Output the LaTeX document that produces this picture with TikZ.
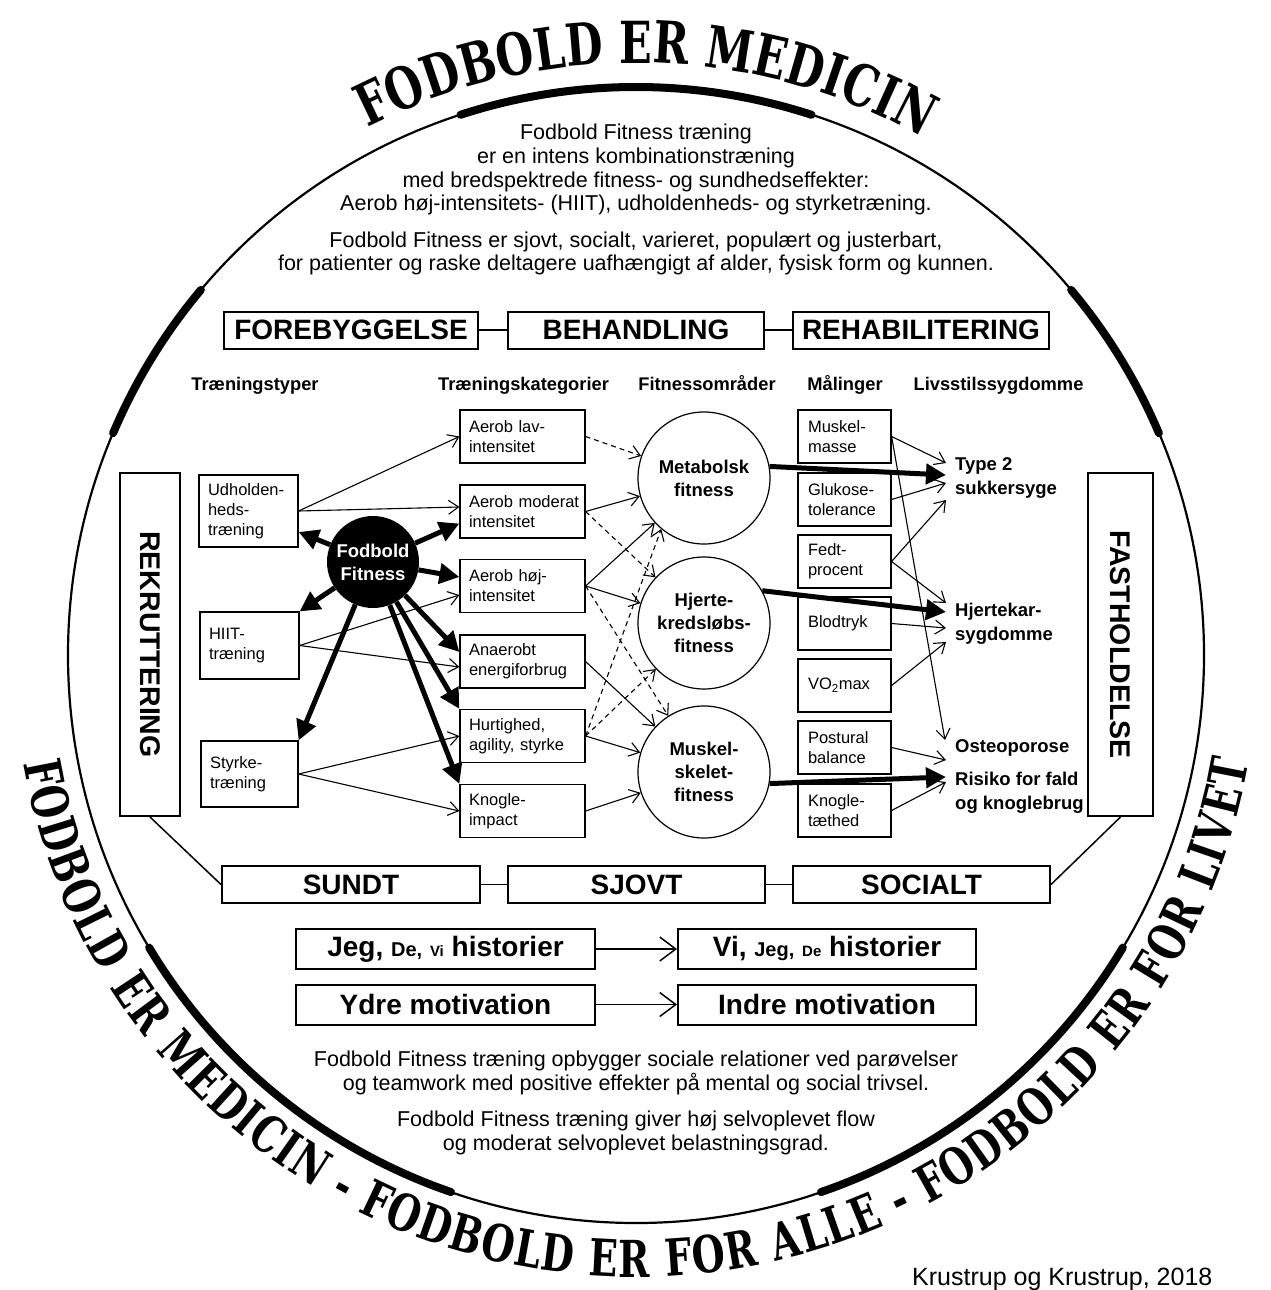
\documentclass[tikz,border=0pt]{standalone}
\usepackage{fontspec}
\setmainfont{Liberation Sans}
\newfontfamily\arcfont[FakeStretch=0.74]{DejaVu Serif}
\usetikzlibrary{arrows.meta,decorations.text,calc}
\newcommand\fsz[2]{\fontsize{#1}{#2}\selectfont}
\begin{document}
\begin{tikzpicture}[x=1pt,y=1pt,
  every node/.style={inner sep=0pt},
  sbox/.style={draw, line width=1.2pt, inner xsep=9pt, inner ysep=0pt, align=left, font=\fsz{16.5}{20}},
  hbox/.style={draw, line width=2pt, inner sep=0pt, minimum height=37pt, font=\bfseries\fsz{28}{28}},
  sidebox/.style={draw, line width=2pt, inner sep=0pt},
  fcirc/.style={draw, line width=1.2pt, circle, minimum size=132pt, inner sep=0pt, align=center, font=\bfseries\fsz{18.5}{23}},
  dis/.style={anchor=west, align=left, font=\bfseries\fsz{18.5}{24}},
  hdr/.style={anchor=base, font=\bfseries\fsz{18.3}{20}},
  para/.style={anchor=base, font=\fsz{21.5}{24}},
  thin/.style={line width=1.1pt, -{Straight Barb[length=10pt,width=14pt]}},
  dsh/.style={thin, dash pattern=on 5pt off 4pt},
  fat/.style={line width=5pt, -{Triangle[length=20pt,width=20pt]}},
  link/.style={line width=1.5pt},
  mbox/.style={draw, line width=2pt, inner sep=0pt, minimum width=299pt, minimum height=40pt, font=\bfseries\fsz{28}{28}}
]
\useasboundingbox (0,0) rectangle (1270,-1290);

% outer circle
\coordinate (C) at (636,-655);
\draw[line width=2.2pt] (C) circle[radius=568pt];
\foreach \a/\b in {72/108, 23/40, 140/157, 211/251, 289/329}
  \draw[line width=8pt, line cap=round] ($(C)+(\a:568pt)$) arc[start angle=\a, end angle=\b, radius=568pt];

% curved titles
\path[decorate, decoration={text along path, text align={fit to path},
   text={|\arcfont\bfseries\fsz{58}{58}|FODBOLD ER MEDICIN}}]
   ($(C)+(117:592pt)$) arc[start angle=117, end angle=61, radius=592pt];
\path[decorate, decoration={text along path, text align={fit to path},
   text={|\arcfont\bfseries\fsz{51}{51}|FODBOLD ER MEDICIN - FODBOLD ER FOR ALLE - FODBOLD ER FOR LIVET}}]
   ($(C)+(190:622pt)$) arc[start angle=190, end angle=350, radius=622pt];

% top paragraphs
\node[para] (p1) at (636,-139) {Fodbold Fitness træning};
\node[para] (p2) at (636,-163) {er en intens kombinationstræning};
\node[para] (p3) at (636,-187) {med bredspektrede fitness- og sundhedseffekter:};
\node[para] (p4) at (636,-210) {Aerob høj-intensitets- (HIIT), udholdenheds- og styrketræning.};
\node[para] (p5) at (636,-247) {Fodbold Fitness er sjovt, socialt, varieret, populært og justerbart,};
\node[para] (p6) at (636,-270) {for patienter og raske deltagere uafhængigt af alder, fysisk form og kunnen.};

% header boxes
\node[hbox, minimum width=254pt] (fore) at (351,-330) {FOREBYGGELSE};
\node[hbox, minimum width=256pt] (beh) at (636,-330) {BEHANDLING};
\node[hbox, minimum width=256pt] (reh) at (921,-330) {REHABILITERING};
\draw[link] (fore) -- (beh);
\draw[link] (beh) -- (reh);

% column headers
\node[hdr] (h1) at (255,-390) {Træningstyper};
\node[hdr] (h2) at (523.5,-390) {Træningskategorier};
\node[hdr] (h3) at (707,-390) {Fitnessområder};
\node[hdr] (h4) at (845,-390) {Målinger};
\node[hdr] (h5) at (998.5,-390) {Livsstilssygdomme};

% side boxes
\node[sidebox, minimum width=60pt, minimum height=343pt] (rek) at (150,-644.5) {};
\node[rotate=-90, font=\bfseries\fsz{28.5}{28.5}] (rekt) at (rek.center) {REKRUTTERING};
\node[sidebox, minimum width=65pt, minimum height=343pt] (fast) at (1120.5,-644.5) {};
\node[rotate=-90, font=\bfseries\fsz{28.5}{28.5}] (fastt) at (fast.center) {FASTHOLDELSE};

% training types
\node[sbox, text width=81pt, minimum height=72pt] (udh) at (248.5,-511) {Udholden-\\heds-\\træning};
\node[sbox, text width=81pt, minimum height=67pt] (hiit) at (249.5,-645.5) {HIIT-\\træning};
\node[sbox, text width=79pt, minimum height=66pt] (sty) at (249.5,-774) {Styrke-\\træning};

% training categories
\node[sbox, text width=107pt, minimum height=53pt] (alav) at (522.5,-436.5) {Aerob lav-\\intensitet};
\node[sbox, text width=107pt, minimum height=53pt] (amod) at (522.5,-511.5) {\mbox{Aerob moderat}\\intensitet};
\node[sbox, text width=107pt, minimum height=53pt] (ahoj) at (522.5,-586) {Aerob høj-\\intensitet};
\node[sbox, text width=107pt, minimum height=53pt] (anae) at (522.5,-661.5) {Anaerobt\\\mbox{energiforbrug}};
\node[sbox, text width=107pt, minimum height=53pt] (hurt) at (522.5,-736) {Hurtighed,\\\mbox{agility, styrke}};
\node[sbox, text width=107pt, minimum height=53pt] (knog) at (522.5,-811) {Knogle-\\impact};

% fitness circles
\node[fcirc] (met) at (704,-478) {Metabolsk\\fitness};
\node[fcirc] (hje) at (704,-623) {Hjerte-\\kredsløbs-\\fitness};
\node[fcirc] (mus) at (704,-772) {Muskel-\\skelet-\\fitness};

% measurements
\node[sbox, inner xsep=10pt, text width=73pt, minimum height=53pt] (mm) at (844.5,-436.5) {Muskel-\\masse};
\node[sbox, inner xsep=10pt, text width=73pt, minimum height=53pt] (glu) at (844.5,-499.5) {Glukose-\\tolerance};
\node[sbox, inner xsep=10pt, text width=73pt, minimum height=53pt] (fedt) at (844.5,-561.5) {Fedt-\\procent};
\node[sbox, inner xsep=10pt, text width=73pt, minimum height=53pt] (blod) at (844.5,-623.5) {Blodtryk};
\node[sbox, inner xsep=10pt, text width=73pt, minimum height=53pt] (vo2) at (844.5,-685.5) {VO\textsubscript{2}max};
\node[sbox, inner xsep=10pt, text width=73pt, minimum height=53pt] (post) at (844.5,-747.5) {Postural\\balance};
\node[sbox, inner xsep=10pt, text width=73pt, minimum height=53pt] (kt) at (844.5,-810.5) {Knogle-\\tæthed};

% diseases
\node[dis] (type2) at (955,-478) {Type 2\\sukkersyge};
\node[dis] (hjk) at (955,-624) {Hjertekar-\\sygdomme};
\node[dis] (ost) at (955,-748) {Osteoporose};
\node[dis] (ris) at (955,-793) {Risiko for fald\\og knoglebrug};

% Fodbold Fitness
\node[circle, fill=black, minimum size=92pt, inner sep=0pt, text=white, align=center, font=\bfseries\fsz{18.5}{23}] (ff) at (373,-562) {Fodbold\\Fitness};

% thick arrows from Fodbold Fitness
\draw[fat] (ff) -- ([yshift=-21pt]udh.east);
\draw[fat] (ff) -- (hiit.north east);
\draw[fat] (ff) -- (sty.north east);
\draw[fat] (ff) -- ([yshift=-12pt]amod.west);
\draw[fat] (ff) -- ([yshift=9pt]ahoj.west);
\draw[fat] (ff) -- ([yshift=9.5pt]anae.west);
\draw[fat] (ff) -- (hurt.north west);
\draw[fat] (ff) -- (knog.north west);

% types -> categories
\draw[thin] (udh.east) -- (alav.west);
\draw[thin] (udh.east) -- ([yshift=4.5pt]amod.west);
\draw[thin] (hiit.east) -- ([yshift=-9pt]ahoj.west);
\draw[thin] (hiit.east) -- ([yshift=-5.5pt]anae.west);
\draw[thin] (sty.east) -- (hurt.west);
\draw[thin] (sty.east) -- (knog.west);

% categories -> fitness
\draw[dsh] (alav.east) -- (met);
\draw[thin] (amod.east) -- (met);
\draw[dsh] (amod.east) -- (hje);
\draw[thin] (ahoj.east) -- (met);
\draw[thin] (ahoj.east) -- (hje);
\draw[dsh] (ahoj.east) -- (mus);
\draw[thin] (anae.east) -- (mus);
\draw[dsh] (hurt.east) -- (met.230);
\draw[dsh] (hurt.east) -- (hje);
\draw[thin] (hurt.east) -- (mus);
\draw[thin] (knog.east) -- (mus);

% fitness -> diseases
\draw[fat] (met.10) -- ([xshift=-9pt,yshift=3pt]type2.west);
\draw[fat] (hje.29) -- ([xshift=-9pt,yshift=12pt]hjk.west);
\draw[fat] (mus.-10) -- ([xshift=-9pt,yshift=16pt]ris.west);

% measurements -> diseases
\draw[thin] (mm.east) -- ([xshift=-9pt,yshift=15pt]type2.west);
\draw[thin] (mm.east) -- ([xshift=-10pt,yshift=8pt]ost.west);
\draw[thin] (glu.east) -- ([xshift=-9pt,yshift=-5pt]type2.west);
\draw[thin] (fedt.east) -- ([xshift=-9pt,yshift=-22pt]type2.west);
\draw[thin] (fedt.east) -- ([xshift=-9pt,yshift=21pt]hjk.west);
\draw[thin] (blod.east) -- ([xshift=-9pt,yshift=-4pt]hjk.west);
\draw[thin] (vo2.east) -- ([xshift=-9pt,yshift=-18pt]hjk.west);
\draw[thin] (post.east) -- ([xshift=-9pt,yshift=-12pt]ost.west);
\draw[thin] (kt.east) -- ([xshift=-9pt,yshift=11pt]ris.west);

% bottom boxes
\node[hbox, minimum width=258pt] (sundt) at (351,-884.5) {SUNDT};
\node[hbox, minimum width=257pt] (sjovt) at (636.5,-884.5) {SJOVT};
\node[hbox, minimum width=257pt] (social) at (921.5,-884.5) {SOCIALT};
\draw[link] (sundt) -- (sjovt);
\draw[link] (sjovt) -- (social);
\draw[link] (rek.south) -- (sundt.west);
\draw[link] (fast.south) -- (social.east);

% stories / motivation
\node[mbox] (jeg) at (445.5,-949) {Jeg, {\fsz{20}{20}De,} {\fsz{15}{15}Vi} historier};
\node[mbox, minimum width=298pt] (vi) at (827,-949) {Vi, {\fsz{20}{20}Jeg,} {\fsz{15}{15}De} historier};
\node[mbox] (ydre) at (445.5,-1004.5) {Ydre motivation};
\node[mbox, minimum width=298pt] (indre) at (827,-1004.5) {Indre motivation};
\draw[line width=1.5pt, -{Straight Barb[length=16pt,width=24pt]}] (jeg) -- (vi);
\draw[line width=1.5pt, -{Straight Barb[length=16pt,width=24pt]}] (ydre) -- (indre);

% bottom paragraphs
\node[para] (q1) at (636,-1066) {Fodbold Fitness træning opbygger sociale relationer ved parøvelser};
\node[para] (q2) at (636,-1090) {og teamwork med positive effekter på mental og social trivsel.};
\node[para] (q3) at (636,-1126) {Fodbold Fitness træning giver høj selvoplevet flow};
\node[para] (q4) at (636,-1150) {og moderat selvoplevet belastningsgrad.};

\node[anchor=base west, font=\fsz{25}{25}] (cite) at (912,-1285) {Krustrup og Krustrup, 2018};
\end{tikzpicture}
\end{document}
